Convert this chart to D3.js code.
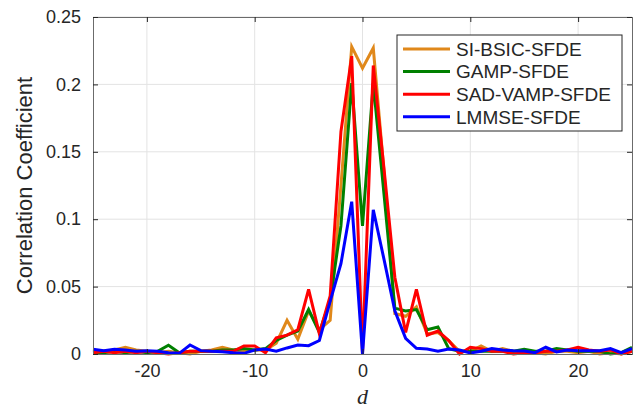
<!DOCTYPE html>
<html>
<head>
<meta charset="utf-8">
<script src="https://cdn.jsdelivr.net/npm/d3@7"></script>
<style>
  body { margin: 0; background: #fff; }
  text { font-family: "Liberation Sans", Arial, sans-serif; fill: #262626; }
</style>
</head>
<body>
<div id="chart"></div>
<script>
// lag values d = -25 .. 25
var lags = d3.range(-25, 26);

var siBsic = [0.002, 0.002, 0.003, 0.005, 0.003, 0.002, 0.001, 0.002, 0.001, 0.000,
  0.002, 0.003, 0.005, 0.003, 0.002, 0.003, 0.003, 0.008, 0.025, 0.011,
  0.032, 0.018, 0.025, 0.125, 0.228, 0.212, 0.227, 0.135, 0.030, 0.028,
  0.035, 0.015, 0.016, 0.010, 0.002, 0.002, 0.006, 0.002, 0.004, 0.002,
  0.001, 0.001, 0.000, 0.002, 0.002, 0.001, 0.002, 0.000, 0.001, 0.000, 0.002];

var gamp = [0.001, 0.001, 0.002, 0.001, 0.002, 0.001, 0.002, 0.0065, 0.001, 0.002,
  0.002, 0.002, 0.003, 0.003, 0.004, 0.003, 0.004, 0.010, 0.014, 0.017,
  0.033, 0.016, 0.040, 0.095, 0.201, 0.095, 0.201, 0.118, 0.034, 0.032,
  0.033, 0.018, 0.020, 0.004, 0.002, 0.002, 0.002, 0.002, 0.002, 0.002,
  0.0035, 0.002, 0.002, 0.004, 0.003, 0.002, 0.002, 0.002, 0.000, 0.001, 0.005];

var sadVamp = [0.001, 0.002, 0.001, 0.002, 0.001, 0.002, 0.001, 0.000, 0.001, 0.002,
  0.002, 0.002, 0.002, 0.002, 0.006, 0.006, 0.001, 0.012, 0.014, 0.018,
  0.048, 0.015, 0.043, 0.165, 0.221, 0.000, 0.214, 0.137, 0.057, 0.016,
  0.048, 0.014, 0.017, 0.010, 0.000, 0.005, 0.004, 0.002, 0.002, 0.000,
  0.001, 0.001, 0.002, 0.002, 0.003, 0.005, 0.003, 0.002, 0.003, 0.000, 0.002];

var lmmse = [0.0035, 0.0025, 0.0035, 0.003, 0.002, 0.0025, 0.002, 0.001, 0.0005, 0.0067,
  0.0025, 0.002, 0.0017, 0.001, 0.0005, 0.003, 0.0037, 0.002, 0.0045, 0.0066,
  0.0062, 0.010, 0.039, 0.067, 0.113, 0.000, 0.107, 0.070, 0.032, 0.0116,
  0.0042, 0.0037, 0.002, 0.0037, 0.003, 0.0007, 0.002, 0.004, 0.003, 0.0025,
  0.0022, 0.001, 0.005, 0.0015, 0.003, 0.0025, 0.0025, 0.0025, 0.004, 0.001, 0.004];

var seriesNames = ['SI-BSIC-SFDE', 'GAMP-SFDE', 'SAD-VAMP-SFDE', 'LMMSE-SFDE'];
var seriesColors = ['#e0881a', '#008000', '#ff0000', '#0000ff'];
var xTicks = [-20, -10, 0, 10, 20];
var yTicks = [0, 0.05, 0.1, 0.15, 0.2, 0.25];

var width = 642, height = 409;
var margin = {top: 17, right: 10, bottom: 55, left: 93};
var w = width - margin.left - margin.right,
    h = height - margin.top - margin.bottom;

var svg = d3.select('#chart').append('svg')
  .attr('width', width)
  .attr('height', height);

var g = svg.append('g')
  .attr('transform', 'translate(' + margin.left + ',' + margin.top + ')');

var x = d3.scaleLinear().domain([-25, 25]).range([0, w]);
var y = d3.scaleLinear().domain([0, 0.25]).range([h, 0]);

//grid
g.selectAll('.gx').data(xTicks).enter().append('line')
  .attr('x1', function(d){return x(d);}).attr('x2', function(d){return x(d);})
  .attr('y1', 0).attr('y2', h)
  .attr('stroke', '#e3e3e3').attr('stroke-width', 1);
g.selectAll('.gy').data(yTicks).enter().append('line')
  .attr('y1', function(d){return y(d);}).attr('y2', function(d){return y(d);})
  .attr('x1', 0).attr('x2', w)
  .attr('stroke', '#e3e3e3').attr('stroke-width', 1);

//lines
var allSeries = [siBsic, gamp, sadVamp, lmmse];
var line = d3.line()
  .x(function(d, i){return x(lags[i]);})
  .y(function(d){return y(d);});

g.selectAll('.series').data(allSeries).enter().append('path')
  .attr('d', line)
  .attr('fill', 'none')
  .attr('stroke', function(d, i){return seriesColors[i];})
  .attr('stroke-width', 3)
  .attr('stroke-linejoin', 'miter');

//axes (box with inward ticks)
var fmtY = function(d){return d === 0 ? '0' : d3.format('.2~f')(d);};
var fmtX = function(d){return String(d);};  // plain hyphen like matlab

var xAxis = g.append('g').attr('transform', 'translate(0,' + h + ')')
  .call(d3.axisBottom(x).tickValues(xTicks).tickSize(-5).tickPadding(10).tickFormat(fmtX));
var xTop = g.append('g')
  .call(d3.axisTop(x).tickValues(xTicks).tickSize(-5).tickFormat(''));
var yAxis = g.append('g')
  .call(d3.axisLeft(y).tickValues(yTicks).tickSize(-5).tickPadding(12).tickFormat(fmtY));
var yRight = g.append('g').attr('transform', 'translate(' + w + ',0)')
  .call(d3.axisRight(y).tickValues(yTicks).tickSize(-5).tickFormat(''));

[xAxis, xTop, yAxis, yRight].forEach(function(a){
  a.selectAll('path').attr('stroke', '#6b6b6b').attr('stroke-width', 1);
  a.selectAll('line').attr('stroke', '#262626');
  a.selectAll('text').style('font-size', '18px')
    .style('font-family', '"Liberation Sans", Arial, sans-serif').attr('fill', '#262626');
});

//labels
svg.append('text')
  .attr('x', margin.left + x(0))
  .attr('y', 404)
  .attr('text-anchor', 'middle')
  .style('font-family', '"Liberation Serif", "Times New Roman", serif')
  .style('font-style', 'italic')
  .style('font-size', '22px')
  .text('d');

svg.append('text')
  .attr('transform', 'translate(32,' + (margin.top + h / 2) + ') rotate(-90)')
  .attr('text-anchor', 'middle')
  .style('font-size', '22px')
  .text('Correlation Coefficient');

//legend
var legend = svg.append('g').attr('transform', 'translate(397,35)');
legend.append('rect')
  .attr('width', 225).attr('height', 96)
  .attr('fill', '#fff').attr('stroke', '#262626').attr('stroke-width', 1);

var items = legend.selectAll('.item').data(seriesNames).enter().append('g')
  .attr('transform', function(d, i){return 'translate(0,' + (14 + i * 22.6) + ')';});
items.append('line')
  .attr('x1', 6).attr('x2', 53)
  .attr('stroke', function(d, i){return seriesColors[i];})
  .attr('stroke-width', 3);
items.append('text')
  .attr('x', 59).attr('dy', '0.36em')
  .style('font-size', '19px')
  .text(function(d){return d;});
</script>
</body>
</html>
